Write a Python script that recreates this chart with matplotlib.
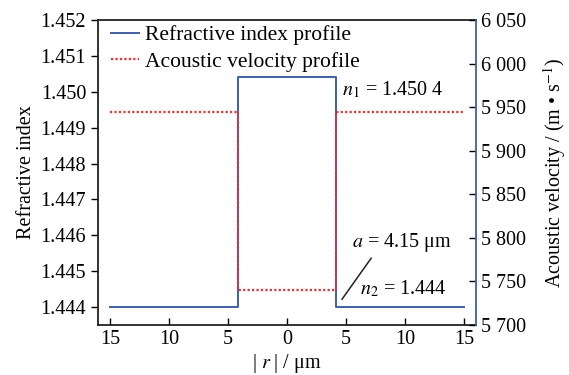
import numpy as np
import matplotlib
matplotlib.use("Agg")
import matplotlib.pyplot as plt
from matplotlib.ticker import FuncFormatter

plt.rcParams['font.family'] = ['Liberation Serif', 'DejaVu Serif']
plt.rcParams['mathtext.fontset'] = 'stix'

# fibre parameters
r_max = 15.0
core_radius = 4.15
n_core = 1.4504
n_clad = 1.444
v_core = 5740.0
v_clad = 5944.0

# step profiles across the fibre
r = np.array([-r_max, -core_radius, -core_radius, core_radius, core_radius, r_max])
n_profile = np.array([n_clad, n_clad, n_core, n_core, n_clad, n_clad])
v_profile = np.array([v_clad, v_clad, v_core, v_core, v_clad, v_clad])

x_ticks = [-15, -10, -5, 0, 5, 10, 15]
n_ticks = [1.444, 1.445, 1.446, 1.447, 1.448, 1.449, 1.450, 1.451, 1.452]
v_ticks = [5700, 5750, 5800, 5850, 5900, 5950, 6000, 6050]

blue = '#3a5fb5'
red = '#ff2a2a'
fs = 14.5

fig = plt.figure(figsize=(5.69, 3.75), dpi=100)
ax = fig.add_axes([0.1722, 0.1333, 0.6644, 0.8134])
ax2 = ax.twinx()

l1, = ax.plot(r, n_profile, color=blue, lw=1.4, label='Refractive index profile')
l2, = ax2.plot(r, v_profile, color=red, lw=1.6, ls=(0, (1, 1)), label='Acoustic velocity profile')

ax.set_xlim(-16, 16)
ax.set_ylim(1.4435, 1.452)
ax2.set_ylim(5700, 6050)

ax.set_xticks(x_ticks)
ax.xaxis.set_major_formatter(FuncFormatter(lambda v, p: f'{abs(v):.0f}'))
ax.set_yticks(n_ticks)
ax.yaxis.set_major_formatter(FuncFormatter(lambda v, p: f'{v:.3f}'))
ax2.set_yticks(v_ticks)
ax2.yaxis.set_major_formatter(FuncFormatter(lambda v, p: f'{int(v)//1000} {int(v)%1000:03d}'))

ax.tick_params(axis='x', direction='in', labelsize=fs, length=5, width=1)
ax.tick_params(axis='y', direction='out', labelsize=fs, length=5, width=1)
ax2.tick_params(axis='y', direction='in', labelsize=fs, length=5, width=1)

for sp in ax2.spines.values():
    sp.set_visible(False)
ax2.spines['right'].set_visible(True)
ax2.spines['right'].set_color(blue)
ax2.spines['right'].set_linewidth(1.3)
for s in ['left', 'top', 'bottom']:
    ax.spines[s].set_color('#222222')
    ax.spines[s].set_linewidth(1.3)
ax.spines['right'].set_visible(False)

ax.set_xlabel(r'| $r$ | / μm', fontsize=fs, labelpad=2)
ax.set_ylabel('Refractive index', fontsize=fs, labelpad=3)
ax2.set_ylabel(r'Acoustic velocity / (m • s$^{-1}$)', fontsize=fs, labelpad=11)

ax.legend(handles=[l1, l2], loc='upper left', frameon=False, fontsize=15.5,
          handlelength=1.3, handletextpad=0.3, labelspacing=0.3,
          borderaxespad=0.2, bbox_to_anchor=(0.0, 1.025))

ax.text(4.66, 1.45006, r'$n_1$ = 1.450 4', fontsize=fs, va='center', ha='left')
ax.text(5.5, 1.44581, r'$a$ = 4.15 μm', fontsize=fs, va='center', ha='left')
ax.text(6.2, 1.4445, r'$n_2$ = 1.444', fontsize=fs, va='center', ha='left')
ax.plot([4.66, 7.12], [1.44422, 1.44536], color='#222222', lw=1.1)

fig.savefig('out.png', dpi=100)
